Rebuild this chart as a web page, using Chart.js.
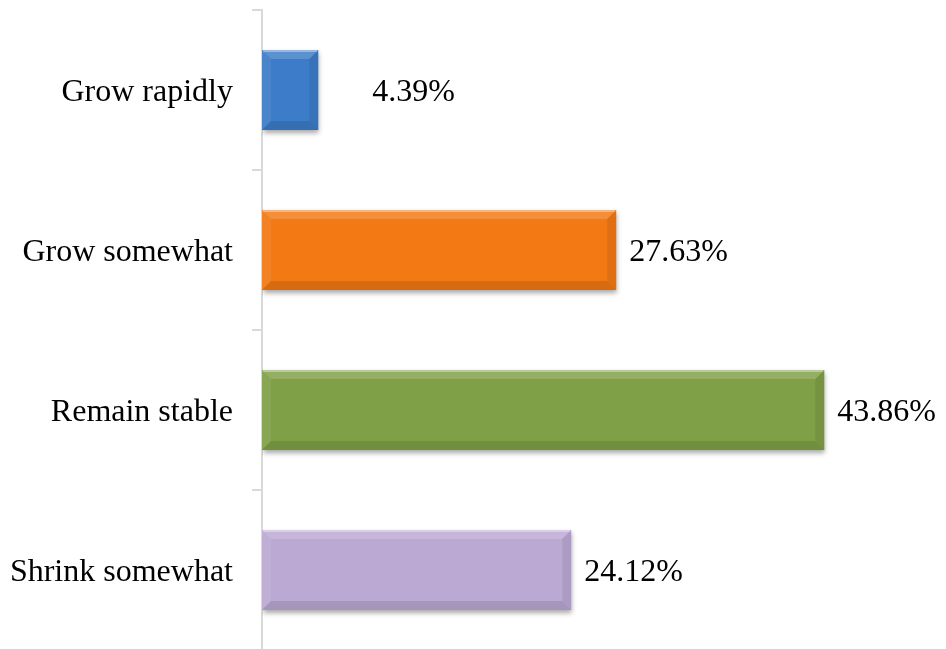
<!DOCTYPE html>
<html>
<head>
<meta charset="utf-8">
<script src="https://cdn.jsdelivr.net/npm/chart.js@4/dist/chart.umd.min.js"></script>
<style>
  html, body { margin: 0; padding: 0; background: #fff; overflow: hidden; }
  #wrap { position: relative; width: 946px; height: 650px; }
</style>
</head>
<body>
<div id="wrap"><canvas id="c"></canvas></div>
<script>
// Expected growth outlook, share of respondents
const categories = ['Grow rapidly', 'Grow somewhat', 'Remain stable', 'Shrink somewhat'];
const shares = [4.39, 27.63, 43.86, 24.12];
const barColors = ['#3d7cc8', '#f27914', '#80a047', '#bba9d3'];

const serif = '"Liberation Serif", "Times New Roman", serif';

// Soft drop shadow under each bar
const barShadow = {
  id: 'barShadow',
  beforeDatasetsDraw(chart) {
    const ctx = chart.ctx;
    ctx.save();
    ctx.shadowColor = 'rgba(0,0,0,0.35)';
    ctx.shadowBlur = 5;
    ctx.shadowOffsetX = 1;
    ctx.shadowOffsetY = 3;
  },
  afterDatasetsDraw(chart) {
    chart.ctx.restore();
  }
};

// Bevelled edges over each bar face
const barBevel = {
  id: 'barBevel',
  afterDatasetsDraw(chart) {
    const ctx = chart.ctx;
    const meta = chart.getDatasetMeta(0);
    meta.data.forEach((bar) => {
      const x0 = bar.base, x1 = bar.x;
      const y0 = bar.y - bar.height / 2, y1 = bar.y + bar.height / 2;
      const b = Math.min(9, (x1 - x0) / 3);
      const quad = (pts, fill) => {
        ctx.beginPath();
        ctx.moveTo(pts[0][0], pts[0][1]);
        for (let i = 1; i < pts.length; i++) ctx.lineTo(pts[i][0], pts[i][1]);
        ctx.closePath();
        ctx.fillStyle = fill;
        ctx.fill();
      };
      ctx.save();
      // top
      quad([[x0, y0], [x1, y0], [x1 - b, y0 + b], [x0 + b, y0 + b]], 'rgba(255,255,255,0.16)');
      // left
      quad([[x0, y0], [x0 + b, y0 + b], [x0 + b, y1 - b], [x0, y1]], 'rgba(255,255,255,0.07)');
      // bottom
      quad([[x0, y1], [x0 + b, y1 - b], [x1 - b, y1 - b], [x1, y1]], 'rgba(0,0,0,0.11)');
      // right
      quad([[x1, y0], [x1, y1], [x1 - b, y1 - b], [x1 - b, y0 + b]], 'rgba(0,0,0,0.08)');
      // highlight along the top edge
      ctx.fillStyle = 'rgba(255,255,255,0.35)';
      ctx.fillRect(x0 + 1, y0, x1 - x0 - 2, 2);
      ctx.restore();
    });
  }
};

// Percentage labels to the right of each bar
const valueLabels = {
  id: 'valueLabels',
  afterDatasetsDraw(chart, args, opts) {
    const ctx = chart.ctx;
    const xScale = chart.scales.x;
    const meta = chart.getDatasetMeta(0);
    const minX = xScale.getPixelForValue(opts.minValue);
    ctx.save();
    ctx.font = '32px ' + serif;
    ctx.fillStyle = '#000';
    ctx.textAlign = 'left';
    ctx.textBaseline = 'middle';
    meta.data.forEach((bar, i) => {
      const x = Math.max(bar.x + 13, minX);
      ctx.fillText(shares[i].toFixed(2) + '%', x, bar.y + 3);
    });
    ctx.restore();
  }
};

new Chart(document.getElementById('c'), {
  type: 'bar',
  data: {
    labels: categories,
    datasets: [{
      data: shares,
      backgroundColor: barColors,
      borderWidth: 0,
      barPercentage: 0.5,
      categoryPercentage: 1.0
    }]
  },
  options: {
    indexAxis: 'y',
    responsive: true,
    maintainAspectRatio: false,
    animation: false,
    layout: { padding: { top: 10, right: 43, bottom: 0, left: 0 } },
    plugins: {
      legend: { display: false },
      tooltip: { enabled: false },
      valueLabels: { minValue: 8.6 }
    },
    scales: {
      x: {
        display: false,
        min: 0,
        max: 50
      },
      y: {
        afterFit(scale) {
          scale.width = 262;
          scale.paddingTop = 0;
          scale.paddingBottom = 0;
        },
        offset: true,
        border: { display: true, color: '#d9d9d9', width: 2 },
        grid: {
          offset: true,
          drawOnChartArea: false,
          drawTicks: true,
          tickLength: 10,
          color: '#d9d9d9',
          lineWidth: 2
        },
        ticks: {
          color: '#000',
          padding: 19,
          labelOffset: 3,
          font: { family: serif, size: 32 }
        }
      }
    }
  },
  plugins: [barShadow, barBevel, valueLabels]
});
</script>
</body>
</html>
